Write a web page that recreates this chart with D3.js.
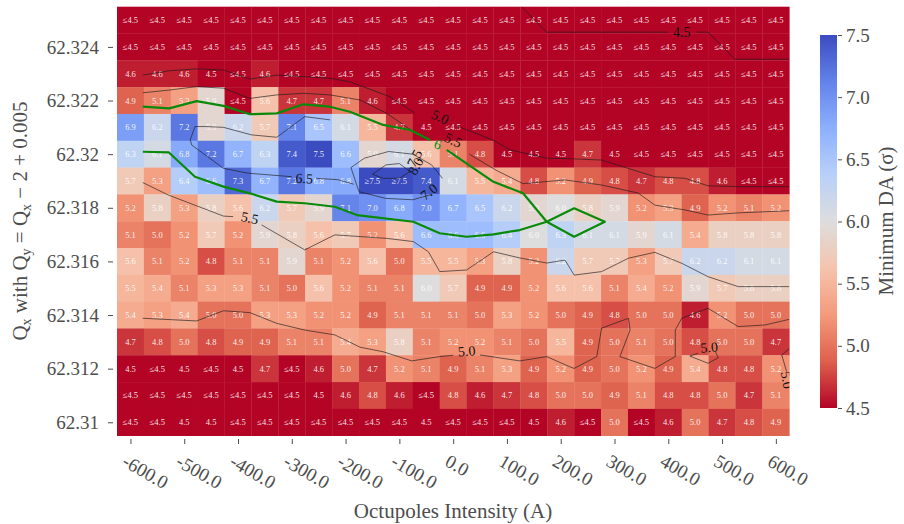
<!DOCTYPE html>
<html>
<head>
<meta charset="utf-8">
<script src="https://d3js.org/d3.v7.min.js"></script>
<style>
  body { margin: 0; background: #fff; }
  text { font-family: "Liberation Serif", "DejaVu Serif", serif; }
</style>
</head>
<body>
<div id="chart"></div>
<script>

// ---- data ----
// octupole intensity (A), one column per value
var intensities = [-600,-550,-500,-450,-400,-350,-300,-250,-200,-150,-100,-50,0,
                   50,100,150,200,250,300,350,400,450,500,550,600];
// Qx, one row per value, top to bottom
var qxValues = [62.325,62.324,62.323,62.322,62.321,62.320,62.319,62.318,
                62.317,62.316,62.315,62.314,62.313,62.312,62.311,62.310];

// minimum DA (sigma); 4.4 stands for cells shown as "≤4.5", 7.6 for "≥7.5"
var minDA = [
  [4.4,4.4,4.4,4.4,4.4,4.4,4.4,4.4,4.4,4.4,4.4,4.4,4.4,4.4,4.4,4.4,4.4,4.4,4.4,4.4,4.4,4.4,4.4,4.4,4.4],
  [4.4,4.4,4.4,4.4,4.4,4.4,4.4,4.4,4.4,4.4,4.4,4.4,4.4,4.4,4.4,4.4,4.4,4.4,4.4,4.4,4.4,4.4,4.4,4.4,4.4],
  [4.6,4.6,4.6,4.5,4.4,4.6,4.4,4.4,4.4,4.4,4.4,4.4,4.4,4.4,4.4,4.4,4.4,4.4,4.4,4.4,4.4,4.4,4.4,4.4,4.4],
  [4.9,5.1,5.3,5.9,4.4,5.6,4.7,4.7,5.1,4.6,4.4,4.4,4.4,4.4,4.4,4.4,4.4,4.4,4.4,4.4,4.4,4.4,4.4,4.4,4.4],
  [6.9,6.2,7.2,5.9,6.2,5.7,7.1,6.5,6.1,5.5,4.7,4.5,4.4,4.4,4.4,4.4,4.4,4.4,4.4,4.4,4.4,4.4,4.4,4.4,4.4],
  [6.3,6.1,6.8,7.2,6.7,6.3,7.4,7.5,6.6,5.9,6.1,5.6,5.1,4.8,4.5,4.5,4.5,4.7,4.5,4.4,4.4,4.4,4.4,4.4,4.4],
  [5.7,5.3,6.4,6.6,7.3,6.7,7.2,6.8,6.8,7.6,7.6,7.4,6.1,5.5,5.4,4.8,5.2,4.9,4.8,4.7,4.8,4.8,4.6,4.4,4.4],
  [5.2,5.8,5.3,5.8,5.6,6.2,5.7,5.9,7.1,7.0,6.8,7.0,6.7,6.5,6.2,5.9,6.0,5.8,5.9,5.2,5.3,4.9,5.2,5.1,5.2],
  [5.1,5.0,5.2,5.7,5.2,5.9,5.8,5.6,5.7,5.2,5.6,6.6,6.6,6.6,6.4,6.0,6.3,6.1,6.1,5.9,6.1,5.4,5.8,5.8,5.8],
  [5.6,5.1,5.2,4.8,5.1,5.1,5.9,5.1,5.2,5.6,5.0,5.5,5.5,5.3,5.8,5.2,6.2,5.7,5.7,5.3,5.7,6.2,6.2,6.1,6.1],
  [5.5,5.4,5.1,5.3,5.3,5.1,5.0,5.6,5.2,5.1,5.1,6.0,5.7,4.9,4.9,5.2,5.6,5.6,5.1,5.4,5.2,5.9,5.7,5.8,5.8],
  [5.4,5.3,5.4,5.0,5.0,5.3,5.3,5.2,5.2,4.9,5.1,5.1,5.1,5.0,5.3,5.2,5.0,4.9,4.8,5.0,5.0,4.6,5.2,5.0,5.0],
  [4.7,4.8,5.0,4.8,4.9,4.9,5.1,5.1,5.4,5.3,5.8,5.1,5.2,5.2,5.1,5.0,5.5,4.9,5.0,5.1,5.0,4.8,5.0,5.0,4.7],
  [4.5,4.4,4.5,4.4,4.5,4.7,4.4,4.6,5.0,4.7,5.2,5.1,4.9,5.1,5.3,4.9,5.2,4.9,5.0,5.2,4.9,5.4,4.8,4.8,5.2],
  [4.4,4.4,4.4,4.4,4.4,4.4,4.4,4.5,4.6,4.8,4.6,4.4,4.8,4.6,4.7,4.8,5.0,5.0,4.9,5.1,4.8,4.8,5.0,4.7,5.1],
  [4.4,4.4,4.5,4.5,4.4,4.4,4.4,4.4,4.4,4.4,4.4,4.5,4.4,4.4,4.4,4.5,4.6,4.4,5.0,4.4,4.6,5.0,4.7,4.8,4.9]
];

// axis ticks
var xTickValues = [-600,-500,-400,-300,-200,-100,0,100,200,300,400,500,600];
var xTickLabels = ["-600.0","-500.0","-400.0","-300.0","-200.0","-100.0","0.0",
                   "100.0","200.0","300.0","400.0","500.0","600.0"];
var yTickValues = [62.310,62.312,62.314,62.316,62.318,62.320,62.322,62.324];
var yTickLabels = ["62.31","62.312","62.314","62.316","62.318","62.32","62.322","62.324"];
var cbTickValues = [4.5,5.0,5.5,6.0,6.5,7.0,7.5];

// contour lines: [intensity, Qx] points, pieces split at labels
var contour45 = [
  [[127,62.3255],[174,62.32455],[400,62.32455]],
  [[453,62.32455],[474,62.32455],[524,62.32354],[625,62.32354]]
];
var contour50 = [
  [[-577,62.32295],[-528,62.32311],[-477,62.32318],[-427,62.32314],[-378,62.3228],[-328,62.32295],
   [-279,62.32289],[-229,62.32283],[-192,62.3227],[-117,62.32214],[-71,62.32153]],
  [[7,62.32105],[74,62.32053],[106,62.32016],[174,62.31985],[217,62.31983],[276,62.31978],
   [375,62.31916],[431,62.3191],[474,62.31882],[530,62.31879],[625,62.31879]],
  [[-577,62.31388],[-477,62.31378],[-427,62.31416],[-378,62.31409],[-328,62.31369],[-276,62.31344],
   [-220,62.31326],[-173,62.3128],[-130,62.31263],[-77,62.31229],[-25,62.31245],[0,62.3125]],
  [[50,62.31251],[124,62.31229],[174,62.31245],[217,62.31207],[225,62.31201],[267,62.31245],
   [276,62.31351],[326,62.31388],[329,62.31344],[310,62.31245],[375,62.31201],[413,62.31245],
   [413,62.31344],[425,62.31388],[474,62.31425],[530,62.31357],[580,62.31363],[625,62.31384]],
  [[455,62.31257],[440,62.31247],[474,62.3122],[493,62.31241],[488,62.31262]],
  [[625,62.31275],[611,62.31251],[620,62.31189]]
];
var contour55 = [
  [[-577,62.32229],[-528,62.32239],[-477,62.32252],[-427,62.32246],[-378,62.32208],[-328,62.32221],
   [-279,62.32227],[-229,62.32221],[-173,62.32202],[-124,62.32153],[-74,62.32084]],
  [[30,62.3200],[80,62.3194],[130,62.3189],[208,62.31904],[276,62.31885],[344,62.31855],
   [375,62.3181],[431,62.31792],[474,62.31773],[530,62.31781],[625,62.31789]],
  [[-577,62.31894],[-530,62.31848],[-427,62.31769],[-409,62.31767]],
  [[-356,62.31736],[-276,62.31643],[-220,62.31699],[-124,62.31686],[-74,62.31674],[-46,62.31636],
   [-25,62.31562],[25,62.31568],[75,62.31636],[124,62.31613],[174,62.31594],[208,62.31605],
   [225,62.31549],[276,62.31562],[326,62.31612],[375,62.31634],[425,62.31593],[474,62.31543],
   [530,62.31506],[625,62.31506]]
];
var contour60 = [
  [[-577,62.32177],[-528,62.32171],[-477,62.32198],[-427,62.3218],[-378,62.32149],[-328,62.32152],
   [-279,62.32186],[-229,62.32177],[-192,62.32158],[-130,62.32109],[-80,62.3209],[-43,62.32053]],
  [[-12,62.32016],[75,62.31897],[130,62.31854],[174,62.31748],[225,62.31692],[282,62.31748],
   [225,62.31798],[174,62.31748],[124,62.31717],[75,62.31701],[25,62.31692],[-25,62.31705],
   [-74,62.31748],[-179,62.31773],[-220,62.31804],[-276,62.31817],[-328,62.31823],[-378,62.31854],
   [-427,62.31879],[-480,62.31916],[-529,62.32007],[-577,62.32009]]
];
var contour65 = [
  [[-229,62.32128],[-276,62.3214],[-328,62.32063],[-375,62.32072],[-427,62.321],[-461,62.32103],
   [-480,62.32103],[-489,62.32053],[-486,62.32034],[-427,62.31947],[-381,62.31929],[-300,62.31916]],
  [[-255,62.3191],[-215,62.31905],[-185,62.31888]]
];
var contour70 = [
  [[-190,62.3195],[-165,62.31985],[-120,62.3201],[-75,62.32],[-40,62.3196],[-20,62.3191]],
  [[-40,62.3185],[-75,62.3183],[-125,62.31835],[-175,62.3186],[-190,62.3195]]
];
var contour75 = [
  [[-150,62.31925],[-125,62.3196],[-100,62.31965],[-80,62.31935],[-100,62.3191],[-130,62.3191],[-150,62.31925]]
];
// contour labels: text, intensity, Qx, angle
var contourLabels = [
  ["4.5", 425, 62.32457, 0],
  ["5.0", -24, 62.32139, 25],
  ["5.5", 0, 62.32053, 25],
  ["6.5", -277, 62.3191, 3],
  ["5.5", -378, 62.31763, 12],
  ["5.0", 25, 62.31266, -4],
  ["5.0", 476, 62.3128, -4],
  ["5.0", 621, 62.31158, 80],
  ["7.0", -45, 62.3186, -38],
  ["7.5", -72, 62.31985, -62],
  ["8.0", -70, 62.31955, -62]
];
var greenLabels = [["6", -28, 62.32038, 20]];

// ---- drawing ----
var width = 904, height = 524;
var svg = d3.select("#chart").append("svg")
    .attr("width", width)
    .attr("height", height);

var step = intensities[1] - intensities[0];
var qStep = qxValues[0] - qxValues[1];

var x = d3.scaleLinear()
  .domain([intensities[0] - step/2, intensities[intensities.length-1] + step/2])
  .range([117, 789.3]);
var y = d3.scaleLinear()
  .domain([qxValues[qxValues.length-1] - qStep/2, qxValues[0] + qStep/2])
  .range([435.7, 6.7]);

// coolwarm, reversed: low DA red, high DA blue
var cw = ["#b40426","#de604d","#f49a7b","#f5c4ad","#dddddd","#b8d0f9","#8db0fe","#6282ea","#3b4cc0"];
var color = d3.scaleLinear()
  .domain(d3.range(cw.length).map(function(i){ return 4.5 + 3*i/(cw.length-1); }))
  .range(cw)
  .clamp(true);

var cells = [];
qxValues.forEach(function(q, r){
  intensities.forEach(function(v, c){
    cells.push({q: q, v: v, val: minDA[r][c]});
  });
});

svg.append("clipPath").attr("id", "plotclip").append("rect")
  .attr("x", x.range()[0]).attr("y", y.range()[1])
  .attr("width", x.range()[1] - x.range()[0])
  .attr("height", y.range()[0] - y.range()[1]);

var cellG = svg.append("g");
cellG.selectAll("rect").data(cells).enter().append("rect")
  .attr("x", function(d){ return x(d.v - step/2); })
  .attr("y", function(d){ return y(d.q + qStep/2); })
  .attr("width", function(d){ return x(d.v + step/2) - x(d.v - step/2) + 0.3; })
  .attr("height", function(d){ return y(d.q - qStep/2) - y(d.q + qStep/2) + 0.3; })
  .attr("fill", function(d){ return color(d.val); });

cellG.selectAll("text").data(cells).enter().append("text")
  .attr("x", function(d){ return x(d.v); })
  .attr("y", function(d){ return y(d.q); })
  .attr("dy", "0.35em")
  .attr("text-anchor", "middle")
  .attr("font-family", "Liberation Serif, serif")
  .attr("font-size", "8.5px")
  .attr("fill", "#fff")
  .attr("fill-opacity", 0.9)
  .text(function(d){
    if (d.val < 4.5) return "\u22644.5";
    if (d.val > 7.5) return "\u22657.5";
    return d.val.toFixed(1);
  });

// contours
var line = d3.line().x(function(d){ return x(d[0]); }).y(function(d){ return y(d[1]); });
var contourG = svg.append("g").attr("fill", "none").attr("clip-path", "url(#plotclip)");
[contour45, contour50, contour55, contour65, contour70, contour75].forEach(function(pieces){
  pieces.forEach(function(p){
    contourG.append("path").datum(p)
      .attr("d", line)
      .attr("stroke", "#1a1a1a")
      .attr("stroke-opacity", 0.8)
      .attr("stroke-width", 0.8);
  });
});
contour60.forEach(function(p){
  contourG.append("path").datum(p)
    .attr("d", line)
    .attr("stroke", "#0a8a0a")
    .attr("stroke-width", 2.2)
    .attr("stroke-linejoin", "round");
});

var labelG = svg.append("g").attr("clip-path", "url(#plotclip)");
labelG.selectAll("text.cl").data(contourLabels).enter().append("text")
  .attr("class", "cl")
  .attr("transform", function(d){ return "translate(" + x(d[1]) + "," + y(d[2]) + ") rotate(" + d[3] + ")"; })
  .attr("text-anchor", "middle")
  .attr("dy", "0.35em")
  .attr("font-family", "Liberation Serif, serif")
  .attr("font-size", "14px")
  .attr("fill", "#111")
  .text(function(d){ return d[0]; });
labelG.selectAll("text.gl").data(greenLabels).enter().append("text")
  .attr("class", "gl")
  .attr("transform", function(d){ return "translate(" + x(d[1]) + "," + y(d[2]) + ") rotate(" + d[3] + ")"; })
  .attr("text-anchor", "middle")
  .attr("dy", "0.35em")
  .attr("font-family", "Liberation Serif, serif")
  .attr("font-size", "14px")
  .attr("fill", "#0a8a0a")
  .text(function(d){ return d[0]; });

// axes
var axisColor = "#4d4d4d";
var yAxis = svg.append("g")
  .attr("transform", "translate(113,0)")
  .call(d3.axisLeft(y).tickValues(yTickValues)
        .tickFormat(function(d, i){ return yTickLabels[i]; })
        .tickSize(5).tickPadding(9));
yAxis.select(".domain").remove();
yAxis.selectAll("line").attr("stroke", axisColor);
yAxis.selectAll("text").attr("font-size", "19px").attr("fill", axisColor)
  .attr("font-family", "Liberation Serif, serif");

var xAxis = svg.append("g")
  .attr("transform", "translate(0,439)")
  .call(d3.axisBottom(x).tickValues(xTickValues)
        .tickFormat(function(d, i){ return xTickLabels[i]; })
        .tickSize(5));
xAxis.select(".domain").remove();
xAxis.selectAll("line").attr("stroke", axisColor);
xAxis.selectAll("text")
  .attr("y", 0).attr("dy", 0).attr("x", 0)
  .attr("transform", "translate(-10,26) rotate(30)")
  .style("text-anchor", "start")
  .attr("font-size", "19px").attr("fill", axisColor)
  .attr("font-family", "Liberation Serif, serif");

// axis titles
svg.append("text")
  .attr("x", 453).attr("y", 518)
  .attr("text-anchor", "middle")
  .attr("font-size", "21px")
  .attr("fill", axisColor)
  .text("Octupoles Intensity (A)");

var yTitle = svg.append("text")
  .attr("transform", "translate(27,221) rotate(-90)")
  .attr("text-anchor", "middle")
  .attr("font-size", "21px")
  .attr("fill", axisColor);
yTitle.append("tspan").text("Q");
yTitle.append("tspan").attr("baseline-shift", "-25%").attr("font-size", "14px").text("x");
yTitle.append("tspan").text(" with Q");
yTitle.append("tspan").attr("baseline-shift", "-25%").attr("font-size", "14px").text("y");
yTitle.append("tspan").text(" = Q");
yTitle.append("tspan").attr("baseline-shift", "-25%").attr("font-size", "14px").text("x");
yTitle.append("tspan").text(" \u2212 2 + 0.005");

// colorbar
var cbY = d3.scaleLinear().domain([4.5, 7.5]).range([408, 35]);
var defs = svg.append("defs");
var grad = defs.append("linearGradient").attr("id", "cbgrad")
  .attr("x1", "0").attr("y1", "1").attr("x2", "0").attr("y2", "0");
cw.forEach(function(c, i){
  grad.append("stop").attr("offset", (i/(cw.length-1))).attr("stop-color", c);
});
svg.append("rect")
  .attr("x", 820).attr("y", cbY(7.5))
  .attr("width", 17).attr("height", cbY(4.5) - cbY(7.5))
  .attr("fill", "url(#cbgrad)");
var cbAxis = svg.append("g")
  .attr("transform", "translate(838,0)")
  .call(d3.axisRight(cbY).tickValues(cbTickValues)
        .tickFormat(d3.format(".1f")).tickSize(4).tickPadding(4));
cbAxis.select(".domain").remove();
cbAxis.selectAll("line").attr("stroke", axisColor);
cbAxis.selectAll("text").attr("font-size", "19px").attr("fill", axisColor)
  .attr("font-family", "Liberation Serif, serif");

svg.append("text")
  .attr("transform", "translate(893,221) rotate(-90)")
  .attr("text-anchor", "middle")
  .attr("font-size", "21px")
  .attr("fill", axisColor)
  .text("Minimum DA (\u03c3)");

</script>
</body>
</html>
